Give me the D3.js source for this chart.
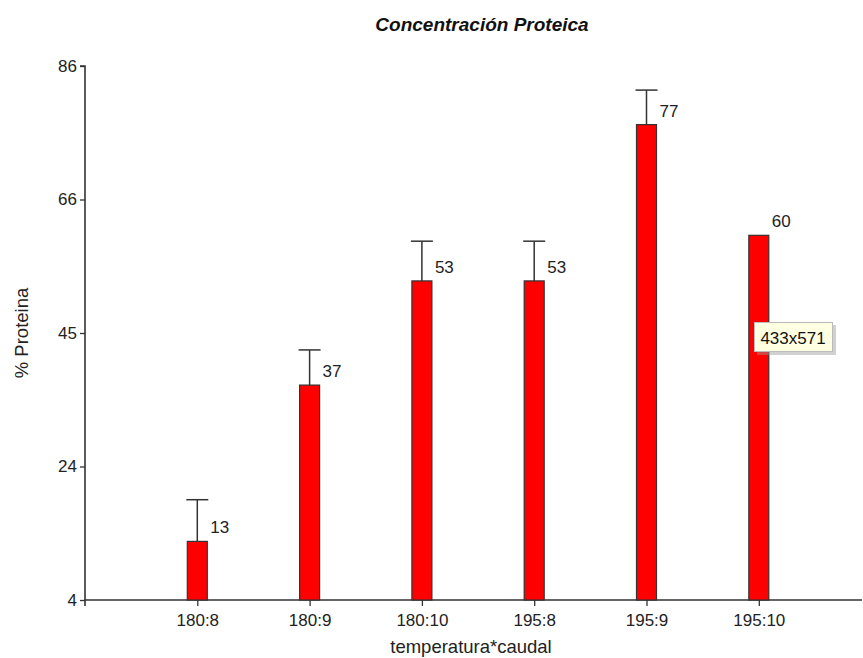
<!DOCTYPE html>
<html>
<head>
<meta charset="utf-8">
<script src="https://cdn.jsdelivr.net/npm/d3@7"></script>
<style>
  html, body { margin: 0; padding: 0; background: #fff; }
  svg { display: block; font-family: "Liberation Sans", Arial, sans-serif; }
</style>
</head>
<body>
<svg id="chart" width="863" height="658"></svg>
<script>
// Protein concentration by temperature*flow combination
const categories = ["180:8", "180:9", "180:10", "195:8", "195:9", "195:10"];
const means      = [13, 37, 53, 53, 77, 60];
const errorTops  = [19.4, 42.4, 59.1, 59.1, 82.3, null];
const yTickValues = [4, 24.5, 45, 65.5, 86];
const yTickLabels = ["4", "24", "45", "66", "86"];

(function () {
  const svg = d3.select("#chart");
  const plotLeft = 85, plotRight = 862, plotTop = 66, plotBottom = 600;
  const step = 112.3;
  const font = "Liberation Sans, Arial, sans-serif";

  const x = d3.scalePoint()
    .domain(categories)
    .range([plotLeft, plotLeft + step * (categories.length + 1)])
    .padding(1);

  const y = d3.scaleLinear().domain([4, 86]).range([plotBottom, plotTop]);

  const ink = "#333";
  const barW = 20;

  // Title
  svg.append("text")
    .attr("x", 482).attr("y", 31)
    .attr("text-anchor", "middle")
    .attr("font-size", 19).attr("font-weight", "bold").attr("font-style", "italic")
    .attr("fill", "#111")
    .text("Concentración Proteica");

  // Y axis
  const yAxis = d3.axisLeft(y)
    .tickValues(yTickValues)
    .tickFormat((d, i) => yTickLabels[i])
    .tickSize(5).tickPadding(3);
  const gy = svg.append("g").attr("transform", `translate(${plotLeft},0)`).call(yAxis);
  gy.select(".domain").attr("stroke", ink).attr("stroke-width", 1.6).attr("d", `M-5,${plotTop}H0V${plotBottom}`);
  gy.selectAll(".tick line").attr("stroke", ink).attr("stroke-width", 1.3);
  gy.selectAll(".tick text").attr("font-size", 17).attr("fill", "#222")
    .attr("font-family", font);

  // X axis
  const xAxis = d3.axisBottom(x).tickSize(6).tickPadding(8);
  const gx = svg.append("g").attr("transform", `translate(0,${plotBottom})`).call(xAxis);
  gx.select(".domain").attr("stroke", ink).attr("stroke-width", 1.6).attr("d", `M${plotLeft},6V0H${plotRight}`);
  gx.selectAll(".tick line").attr("stroke", ink).attr("stroke-width", 1.3);
  gx.selectAll(".tick text").attr("font-size", 17).attr("fill", "#222")
    .attr("font-family", font);

  // Axis titles
  svg.append("text")
    .attr("transform", `translate(28,${(plotTop + plotBottom) / 2}) rotate(-90)`)
    .attr("text-anchor", "middle")
    .attr("font-size", 18.5).attr("fill", "#222")
    .text("% Proteina");

  svg.append("text")
    .attr("x", 471).attr("y", 653)
    .attr("text-anchor", "middle")
    .attr("font-size", 18.5).attr("fill", "#222")
    .text("temperatura*caudal");

  // Error bars (upper whisker only)
  const err = svg.append("g");
  categories.forEach((c, i) => {
    if (errorTops[i] == null) return;
    const cx = x(c);
    err.append("line")
      .attr("x1", cx).attr("x2", cx)
      .attr("y1", y(means[i])).attr("y2", y(errorTops[i]))
      .attr("stroke", ink).attr("stroke-width", 1.5);
    err.append("line")
      .attr("x1", cx - 11).attr("x2", cx + 11)
      .attr("y1", y(errorTops[i])).attr("y2", y(errorTops[i]))
      .attr("stroke", ink).attr("stroke-width", 1.5);
  });

  // Bars
  svg.append("g").selectAll("rect")
    .data(categories)
    .join("rect")
    .attr("x", d => x(d) - barW / 2)
    .attr("y", (d, i) => y(means[i]))
    .attr("width", barW)
    .attr("height", (d, i) => y(4) - y(means[i]))
    .attr("fill", "#ff0000")
    .attr("stroke", ink).attr("stroke-width", 1.2);

  // Value labels
  svg.append("g").selectAll("text")
    .data(categories)
    .join("text")
    .attr("x", d => x(d) + 13)
    .attr("y", (d, i) => y(means[i]) - 8)
    .attr("font-size", 17).attr("fill", "#222")
    .text((d, i) => means[i]);

  // Hover tooltip box
  const tip = svg.append("g").attr("transform", "translate(754,322)");
  tip.append("rect").attr("x", 3).attr("y", 3).attr("width", 79).attr("height", 30)
    .attr("fill", "#999").attr("opacity", 0.45);
  tip.append("rect").attr("x", 0.5).attr("y", 0.5).attr("width", 78).attr("height", 29)
    .attr("fill", "#ffffe1").attr("stroke", "#bbb");
  tip.append("text").attr("x", 39).attr("y", 21.5).attr("text-anchor", "middle")
    .attr("font-size", 17).attr("fill", "#111").text("433x571");
})();
</script>
</body>
</html>
